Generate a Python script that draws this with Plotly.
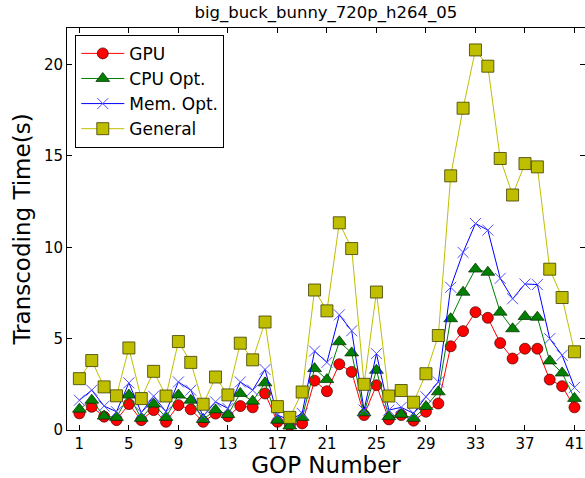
import plotly.graph_objects as go

gop = list(range(1, 42))

gpu = [0.91, 1.27, 0.73, 0.54, 1.42, 0.54, 1.09, 0.45, 1.36, 1.13,
       0.45, 0.90, 0.75, 1.31, 1.24, 2.00, 0.45, 0.27, 0.36, 2.70,
       2.12, 3.60, 3.18, 0.82, 2.45, 0.58, 0.82, 0.51, 1.00, 1.45,
       4.58, 5.41, 6.45, 6.14, 4.76, 3.91, 4.45, 4.45, 2.76, 2.40, 1.24]

cpu_opt = [1.14, 1.63, 0.76, 0.69, 1.91, 0.64, 1.42, 0.69, 1.91, 1.63,
           0.58, 1.10, 0.85, 2.00, 1.58, 2.58, 0.54, 0.22, 0.69, 3.36,
           2.76, 4.83, 4.22, 0.94, 3.27, 0.73, 0.86, 0.64, 1.29, 2.09,
           6.09, 7.54, 8.81, 8.63, 6.45, 5.54, 6.21, 6.17, 3.78, 3.12, 1.73]

mem_opt = [1.63, 2.18, 1.31, 1.00, 2.58, 0.95, 1.85, 1.00, 2.63, 2.18,
           0.76, 1.54, 1.18, 2.63, 2.18, 3.31, 0.82, 0.54, 0.91, 4.32,
           3.70, 6.30, 5.43, 1.09, 4.18, 1.09, 1.24, 0.91, 1.82, 2.63,
           7.81, 9.72, 11.30, 10.94, 8.30, 7.18, 7.99, 7.96, 5.00, 4.09, 2.33]

general = [2.81, 3.80, 2.36, 1.87, 4.49, 1.72, 3.21, 1.86, 4.84, 3.70,
           1.41, 2.90, 1.92, 4.75, 3.84, 5.91, 1.28, 0.69, 2.08, 7.66,
           6.52, 11.34, 9.93, 2.50, 7.55, 1.86, 2.16, 1.52, 3.08, 5.17,
           13.91, 17.61, 20.80, 19.91, 14.86, 12.86, 14.58, 14.40, 8.80, 7.25, 4.28]

x_ticks = list(range(1, 42, 4))
y_ticks = [0, 5, 10, 15, 20]

FONT = "DejaVu Sans"

fig = go.Figure()

fig.add_trace(go.Scatter(
    x=gop, y=gpu, name="GPU", mode="lines+markers",
    line=dict(color="rgb(255,0,0)", width=1),
    marker=dict(symbol="circle", size=11, color="rgb(255,0,0)",
                line=dict(color="rgb(60,0,0)", width=0.7))))

fig.add_trace(go.Scatter(
    x=gop, y=cpu_opt, name="CPU Opt.", mode="lines+markers",
    line=dict(color="rgb(0,128,0)", width=1),
    marker=dict(symbol="triangle-up", size=12, color="rgb(0,128,0)",
                line=dict(color="rgb(0,40,0)", width=0.7))))

fig.add_trace(go.Scatter(
    x=gop, y=mem_opt, name="Mem. Opt.", mode="lines+markers",
    line=dict(color="rgb(0,0,255)", width=1),
    marker=dict(symbol="x-thin", size=11, color="rgb(0,0,255)",
                line=dict(color="rgb(80,80,255)", width=1))))

fig.add_trace(go.Scatter(
    x=gop, y=general, name="General", mode="lines+markers",
    line=dict(color="rgb(191,191,0)", width=1),
    marker=dict(symbol="square", size=12, color="rgb(191,191,0)",
                line=dict(color="rgb(60,60,0)", width=0.8))))

fig.update_layout(
    width=585, height=478,
    margin=dict(l=67, r=0, t=28, b=48),
    paper_bgcolor="white", plot_bgcolor="white",
    font=dict(family=FONT, color="black"),
    title=dict(text="big_buck_bunny_720p_h264_05", x=0.557, xanchor="center",
               y=0.975, yanchor="middle", font=dict(size=16.5, family=FONT)),
    showlegend=True,
    legend=dict(x=0.016, y=0.983, xanchor="left", yanchor="top",
                bordercolor="black", borderwidth=1, bgcolor="white",
                font=dict(size=17, family=FONT), itemwidth=43,
                tracegroupgap=0),
    xaxis=dict(range=[0, 41.85], tickvals=x_ticks, ticktext=[str(v) for v in x_ticks],
               showgrid=False, zeroline=False, showline=True, mirror="ticks",
               linecolor="black", linewidth=1, ticks="inside", ticklen=5,
               tickcolor="black", tickfont=dict(size=15, family=FONT),
               title=dict(text="GOP Number", font=dict(size=23, family=FONT), standoff=6)),
    yaxis=dict(range=[0, 22], tickvals=y_ticks, ticktext=[str(v) for v in y_ticks],
               showgrid=False, zeroline=False, showline=True, mirror="ticks",
               linecolor="black", linewidth=1, ticks="inside", ticklen=5,
               tickcolor="black", tickfont=dict(size=15, family=FONT),
               title=dict(text="Transcoding Time(s)", font=dict(size=23, family=FONT), standoff=6)),
)

fig.write_html("out.html")
